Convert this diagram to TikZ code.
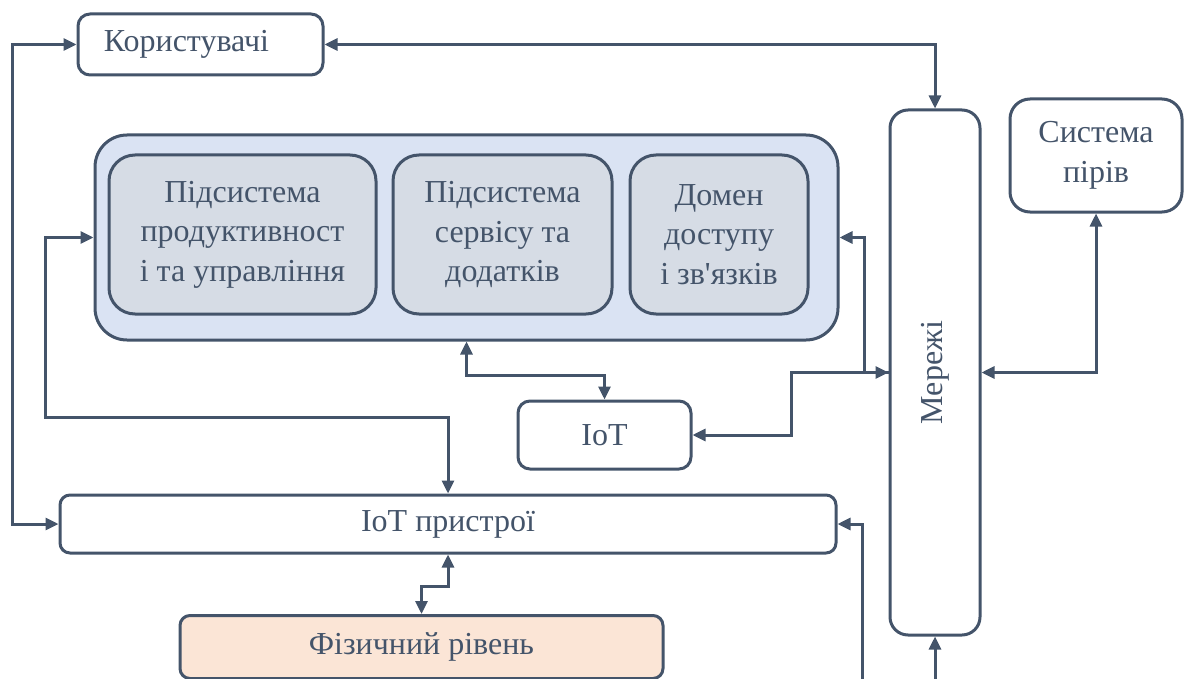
\documentclass[tikz,border=0pt]{standalone}
\usepackage{fontspec}
\setmainfont{Liberation Serif}
\usetikzlibrary{positioning,arrows.meta}
\definecolor{slate}{HTML}{44546A}
\definecolor{panelblue}{HTML}{DAE3F3}
\definecolor{subgray}{HTML}{D6DCE5}
\definecolor{physpink}{HTML}{FBE5D6}

\begin{document}
\begin{tikzpicture}[x=1pt,y=-1pt,
    block/.style={draw=slate,line width=3pt,rounded corners=12pt,fill=white,text=slate,
      font=\fontsize{32}{39.5}\selectfont,align=center,inner sep=0pt},
    panel/.style={block,fill=panelblue,rounded corners=32pt},
    subsys/.style={block,fill=subgray,rounded corners=26pt,minimum height=159pt},
    link/.style={draw=slate,line width=3pt,{Triangle[length=13pt,width=12pt]}-{Triangle[length=13pt,width=12pt]}},
    tolink/.style={draw=slate,line width=3pt,-{Triangle[length=13pt,width=12pt]}},
    fromlink/.style={draw=slate,line width=3pt,{Triangle[length=13pt,width=12pt]}-}] %
    \useasboundingbox (0,0) rectangle (1185,679);
    \node[block, minimum width=245pt, minimum height=61pt] (users) at (200.5,44.5) {Користувачі\hspace*{28pt}} ; %
    \node[panel, minimum width=743pt, minimum height=205pt] (core) at (466.5,237.5) {} ; %
    \node[subsys, minimum width=267pt] (perf) at (242.5,234.5) {Підсистема\\продуктивност\\і та управління} ; %
    \node[subsys, right=14pt of perf, minimum width=219pt] (serv) {Підсистема\\сервісу та\\додатків} ; %
    \node[subsys, right=15pt of serv, minimum width=178pt] (dom) {Домен\\доступу\\і зв\textquotesingle язків};
    \node[block, rounded corners=18pt, minimum width=90pt, minimum height=525pt] (net) at (935,372.5) {\rotatebox{90}{Мережі}};
    \node[block, rounded corners=20pt, minimum width=172pt, minimum height=113pt] (peers) at (1096,155.5) {Система\\пірів};
    \node[block, minimum width=173pt, minimum height=68pt] (iot) at (604.5,435) {IoT};
    \node[block, rounded corners=10pt, minimum width=776pt, minimum height=58pt] (dev) at (448,524) {IoT пристрої};
    \node[block, rounded corners=10pt, fill=physpink, minimum width=483pt, minimum height=63pt] (phys) at (421.5,647) {Фізичний рівень};
    \coordinate (devin) at (862,679);
    \coordinate (netin) at (935,679);
    \draw[link] (users.east) -| (net.north) ; %
    \draw[link] (users.west) -- ++(-64,0) |- (dev.west) ; %
    \draw[link] (core.west) -- ++(-48,0) -- ++(0,180) -| (dev.north);
    \draw[link] (core.south) -- ++(0,34) -| (iot.north);
    \draw[link] (core.east) -- ++(25,0) |- (net.west);
    \draw[fromlink] (iot.east) -- ++(99,0) |- (net.west);
    \draw[link] (net.east) -| (peers.south);
    \draw[tolink] (devin) |- (dev.east);
    \draw[tolink] (netin) -- (net.south);
    \draw[link] (dev.south) -- ++(0,32) -| (phys.north);
  \end{tikzpicture}
\end{document}
